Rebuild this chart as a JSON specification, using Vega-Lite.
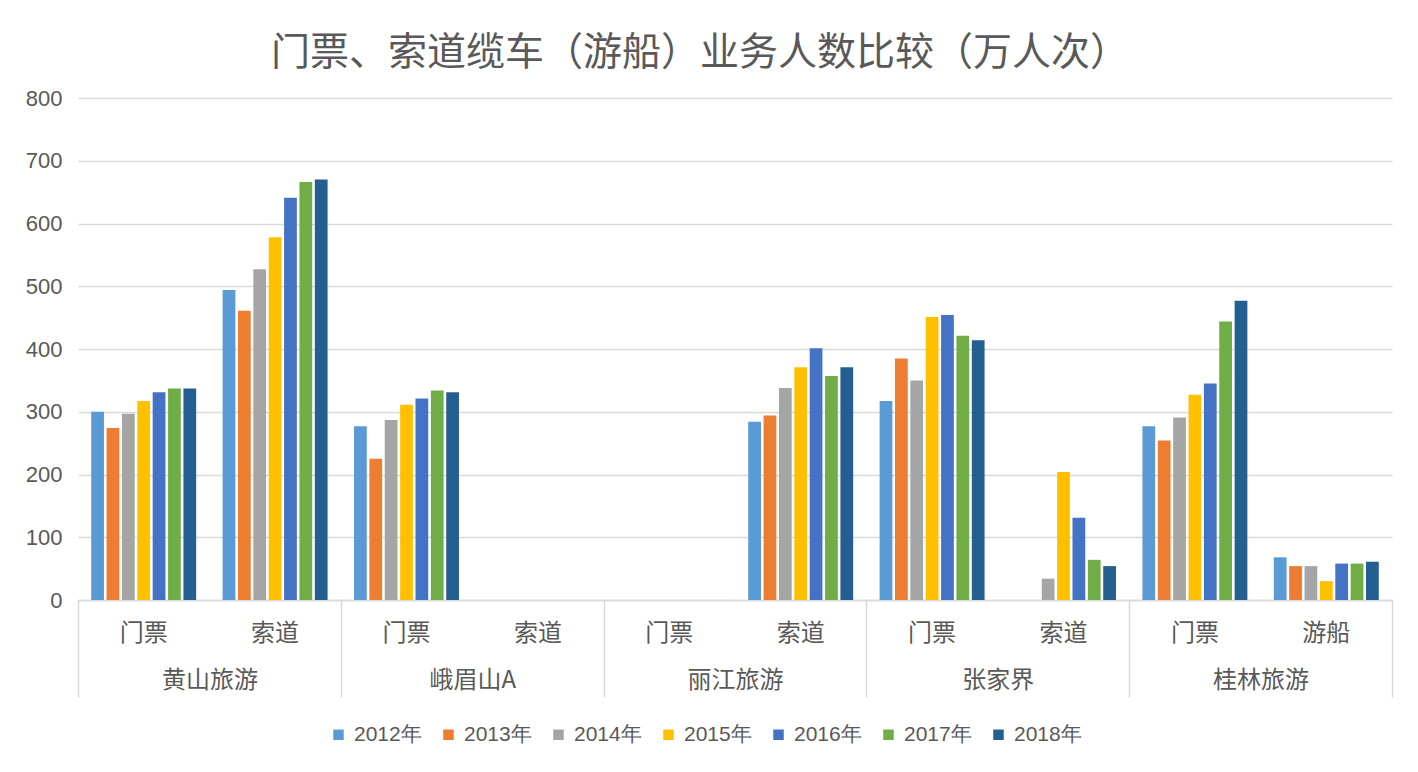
{
  "$schema": "https://vega.github.io/schema/vega-lite/v6.json",
  "autosize": "none",
  "width": 1314,
  "height": 502,
  "padding": {"left": 78, "top": 98, "right": 26, "bottom": 172},
  "background": "white",
  "title": {
    "text": "门票、索道缆车（游船）业务人数比较（万人次）",
    "font": "Noto Sans CJK SC",
    "fontSize": 39,
    "fontWeight": "normal",
    "color": "#595959",
    "anchor": "middle",
    "dx": -35,
    "offset": 14
  },
  "config": {
    "view": {"stroke": null},
    "font": "Noto Sans CJK SC"
  },
  "data": {
    "values": [
      {"company": "黄山旅游", "category": "门票", "slot": "黄山旅游 门票", "year": "2012年", "value": 300},
      {"company": "黄山旅游", "category": "门票", "slot": "黄山旅游 门票", "year": "2013年", "value": 274},
      {"company": "黄山旅游", "category": "门票", "slot": "黄山旅游 门票", "year": "2014年", "value": 297},
      {"company": "黄山旅游", "category": "门票", "slot": "黄山旅游 门票", "year": "2015年", "value": 317},
      {"company": "黄山旅游", "category": "门票", "slot": "黄山旅游 门票", "year": "2016年", "value": 331},
      {"company": "黄山旅游", "category": "门票", "slot": "黄山旅游 门票", "year": "2017年", "value": 337},
      {"company": "黄山旅游", "category": "门票", "slot": "黄山旅游 门票", "year": "2018年", "value": 337},
      {"company": "黄山旅游", "category": "索道", "slot": "黄山旅游 索道", "year": "2012年", "value": 494},
      {"company": "黄山旅游", "category": "索道", "slot": "黄山旅游 索道", "year": "2013年", "value": 461},
      {"company": "黄山旅游", "category": "索道", "slot": "黄山旅游 索道", "year": "2014年", "value": 527},
      {"company": "黄山旅游", "category": "索道", "slot": "黄山旅游 索道", "year": "2015年", "value": 578},
      {"company": "黄山旅游", "category": "索道", "slot": "黄山旅游 索道", "year": "2016年", "value": 641},
      {"company": "黄山旅游", "category": "索道", "slot": "黄山旅游 索道", "year": "2017年", "value": 666},
      {"company": "黄山旅游", "category": "索道", "slot": "黄山旅游 索道", "year": "2018年", "value": 670},
      {"company": "峨眉山A", "category": "门票", "slot": "峨眉山A 门票", "year": "2012年", "value": 277},
      {"company": "峨眉山A", "category": "门票", "slot": "峨眉山A 门票", "year": "2013年", "value": 225},
      {"company": "峨眉山A", "category": "门票", "slot": "峨眉山A 门票", "year": "2014年", "value": 287},
      {"company": "峨眉山A", "category": "门票", "slot": "峨眉山A 门票", "year": "2015年", "value": 311},
      {"company": "峨眉山A", "category": "门票", "slot": "峨眉山A 门票", "year": "2016年", "value": 321},
      {"company": "峨眉山A", "category": "门票", "slot": "峨眉山A 门票", "year": "2017年", "value": 334},
      {"company": "峨眉山A", "category": "门票", "slot": "峨眉山A 门票", "year": "2018年", "value": 331},
      {"company": "丽江旅游", "category": "索道", "slot": "丽江旅游 索道", "year": "2012年", "value": 284},
      {"company": "丽江旅游", "category": "索道", "slot": "丽江旅游 索道", "year": "2013年", "value": 294},
      {"company": "丽江旅游", "category": "索道", "slot": "丽江旅游 索道", "year": "2014年", "value": 338},
      {"company": "丽江旅游", "category": "索道", "slot": "丽江旅游 索道", "year": "2015年", "value": 371},
      {"company": "丽江旅游", "category": "索道", "slot": "丽江旅游 索道", "year": "2016年", "value": 401},
      {"company": "丽江旅游", "category": "索道", "slot": "丽江旅游 索道", "year": "2017年", "value": 357},
      {"company": "丽江旅游", "category": "索道", "slot": "丽江旅游 索道", "year": "2018年", "value": 371},
      {"company": "张家界", "category": "门票", "slot": "张家界 门票", "year": "2012年", "value": 317},
      {"company": "张家界", "category": "门票", "slot": "张家界 门票", "year": "2013年", "value": 385},
      {"company": "张家界", "category": "门票", "slot": "张家界 门票", "year": "2014年", "value": 350},
      {"company": "张家界", "category": "门票", "slot": "张家界 门票", "year": "2015年", "value": 451},
      {"company": "张家界", "category": "门票", "slot": "张家界 门票", "year": "2016年", "value": 454},
      {"company": "张家界", "category": "门票", "slot": "张家界 门票", "year": "2017年", "value": 421},
      {"company": "张家界", "category": "门票", "slot": "张家界 门票", "year": "2018年", "value": 414},
      {"company": "张家界", "category": "索道", "slot": "张家界 索道", "year": "2014年", "value": 34},
      {"company": "张家界", "category": "索道", "slot": "张家界 索道", "year": "2015年", "value": 204},
      {"company": "张家界", "category": "索道", "slot": "张家界 索道", "year": "2016年", "value": 131},
      {"company": "张家界", "category": "索道", "slot": "张家界 索道", "year": "2017年", "value": 64},
      {"company": "张家界", "category": "索道", "slot": "张家界 索道", "year": "2018年", "value": 54},
      {"company": "桂林旅游", "category": "门票", "slot": "桂林旅游 门票", "year": "2012年", "value": 277},
      {"company": "桂林旅游", "category": "门票", "slot": "桂林旅游 门票", "year": "2013年", "value": 254},
      {"company": "桂林旅游", "category": "门票", "slot": "桂林旅游 门票", "year": "2014年", "value": 291},
      {"company": "桂林旅游", "category": "门票", "slot": "桂林旅游 门票", "year": "2015年", "value": 327},
      {"company": "桂林旅游", "category": "门票", "slot": "桂林旅游 门票", "year": "2016年", "value": 345},
      {"company": "桂林旅游", "category": "门票", "slot": "桂林旅游 门票", "year": "2017年", "value": 444},
      {"company": "桂林旅游", "category": "门票", "slot": "桂林旅游 门票", "year": "2018年", "value": 477},
      {"company": "桂林旅游", "category": "游船", "slot": "桂林旅游 游船", "year": "2012年", "value": 68},
      {"company": "桂林旅游", "category": "游船", "slot": "桂林旅游 游船", "year": "2013年", "value": 54},
      {"company": "桂林旅游", "category": "游船", "slot": "桂林旅游 游船", "year": "2014年", "value": 54},
      {"company": "桂林旅游", "category": "游船", "slot": "桂林旅游 游船", "year": "2015年", "value": 30},
      {"company": "桂林旅游", "category": "游船", "slot": "桂林旅游 游船", "year": "2016年", "value": 58},
      {"company": "桂林旅游", "category": "游船", "slot": "桂林旅游 游船", "year": "2017年", "value": 58},
      {"company": "桂林旅游", "category": "游船", "slot": "桂林旅游 游船", "year": "2018年", "value": 61}
    ]
  },
  "layer": [
    {
      "mark": {"type": "bar"},
      "encoding": {
        "y": {
          "field": "value",
          "type": "quantitative",
          "scale": {"domain": [0, 800], "nice": false},
          "axis": {
            "title": null,
            "values": [0, 100, 200, 300, 400, 500, 600, 700, 800],
            "domain": false,
            "ticks": false,
            "grid": true,
            "gridColor": "#d9d9d9",
            "gridWidth": 1.3,
            "labelFont": "Liberation Sans",
            "labelFontSize": 22,
            "labelColor": "#595959",
            "labelPadding": 16
          }
        },
        "x": {
          "field": "slot",
          "type": "nominal",
          "sort": null,
          "scale": {
            "domain": ["黄山旅游 门票", "黄山旅游 索道", "峨眉山A 门票", "峨眉山A 索道", "丽江旅游 门票", "丽江旅游 索道", "张家界 门票", "张家界 索道", "桂林旅游 门票", "桂林旅游 游船"],
            "paddingInner": 0,
            "paddingOuter": 0
          },
          "axis": {
            "orient": "bottom",
            "title": null,
            "labelExpr": "split(datum.label, ' ')[1]",
            "domain": true,
            "domainColor": "#d9d9d9",
            "domainWidth": 1.5,
            "ticks": false,
            "tickSize": 0,
            "labelFont": "Noto Sans CJK SC",
            "labelFontSize": 24,
            "labelColor": "#595959",
            "labelPadding": 21,
            "labelAngle": 0
          }
        },
        "xOffset": {
          "field": "year",
          "type": "nominal",
          "scale": {
            "domain": ["2012年", "2013年", "2014年", "2015年", "2016年", "2017年", "2018年"],
            "paddingInner": 0.17,
            "paddingOuter": 0.86
          }
        },
        "color": {
          "field": "year",
          "type": "nominal",
          "scale": {
            "domain": ["2012年", "2013年", "2014年", "2015年", "2016年", "2017年", "2018年"],
            "range": ["#5B9BD5", "#ED7D31", "#A5A5A5", "#FFC000", "#4472C4", "#70AD47", "#255E91"]
          },
          "legend": {
            "title": null,
            "orient": "none",
            "direction": "horizontal",
            "legendX": 250,
            "legendY": 626,
            "symbolType": "square",
            "symbolSize": 110,
            "symbolStrokeWidth": 0,
            "labelFont": "Liberation Sans",
            "labelFontSize": 21,
            "labelColor": "#595959",
            "labelOffset": 5,
            "columnPadding": 16
          }
        }
      }
    },
    {
      "mark": {"type": "bar", "opacity": 0},
      "encoding": {
        "y": {"field": "value", "type": "quantitative", "stack": null},
        "x": {
          "field": "company",
          "type": "nominal",
          "sort": null,
          "scale": {
            "domain": ["黄山旅游", "峨眉山A", "丽江旅游", "张家界", "桂林旅游"],
            "paddingInner": 0,
            "paddingOuter": 0
          },
          "axis": {
            "orient": "bottom",
            "title": null,
            "domain": false,
            "ticks": true,
            "tickBand": "extent",
            "tickSize": 97,
            "tickColor": "#d9d9d9",
            "tickWidth": 1.5,
            "labelFont": "Noto Sans CJK SC",
            "labelFontSize": 24,
            "labelColor": "#595959",
            "labelPadding": -29,
            "labelAngle": 0
          }
        }
      }
    }
  ],
  "resolve": {"scale": {"x": "independent"}, "axis": {"x": "independent"}}
}
